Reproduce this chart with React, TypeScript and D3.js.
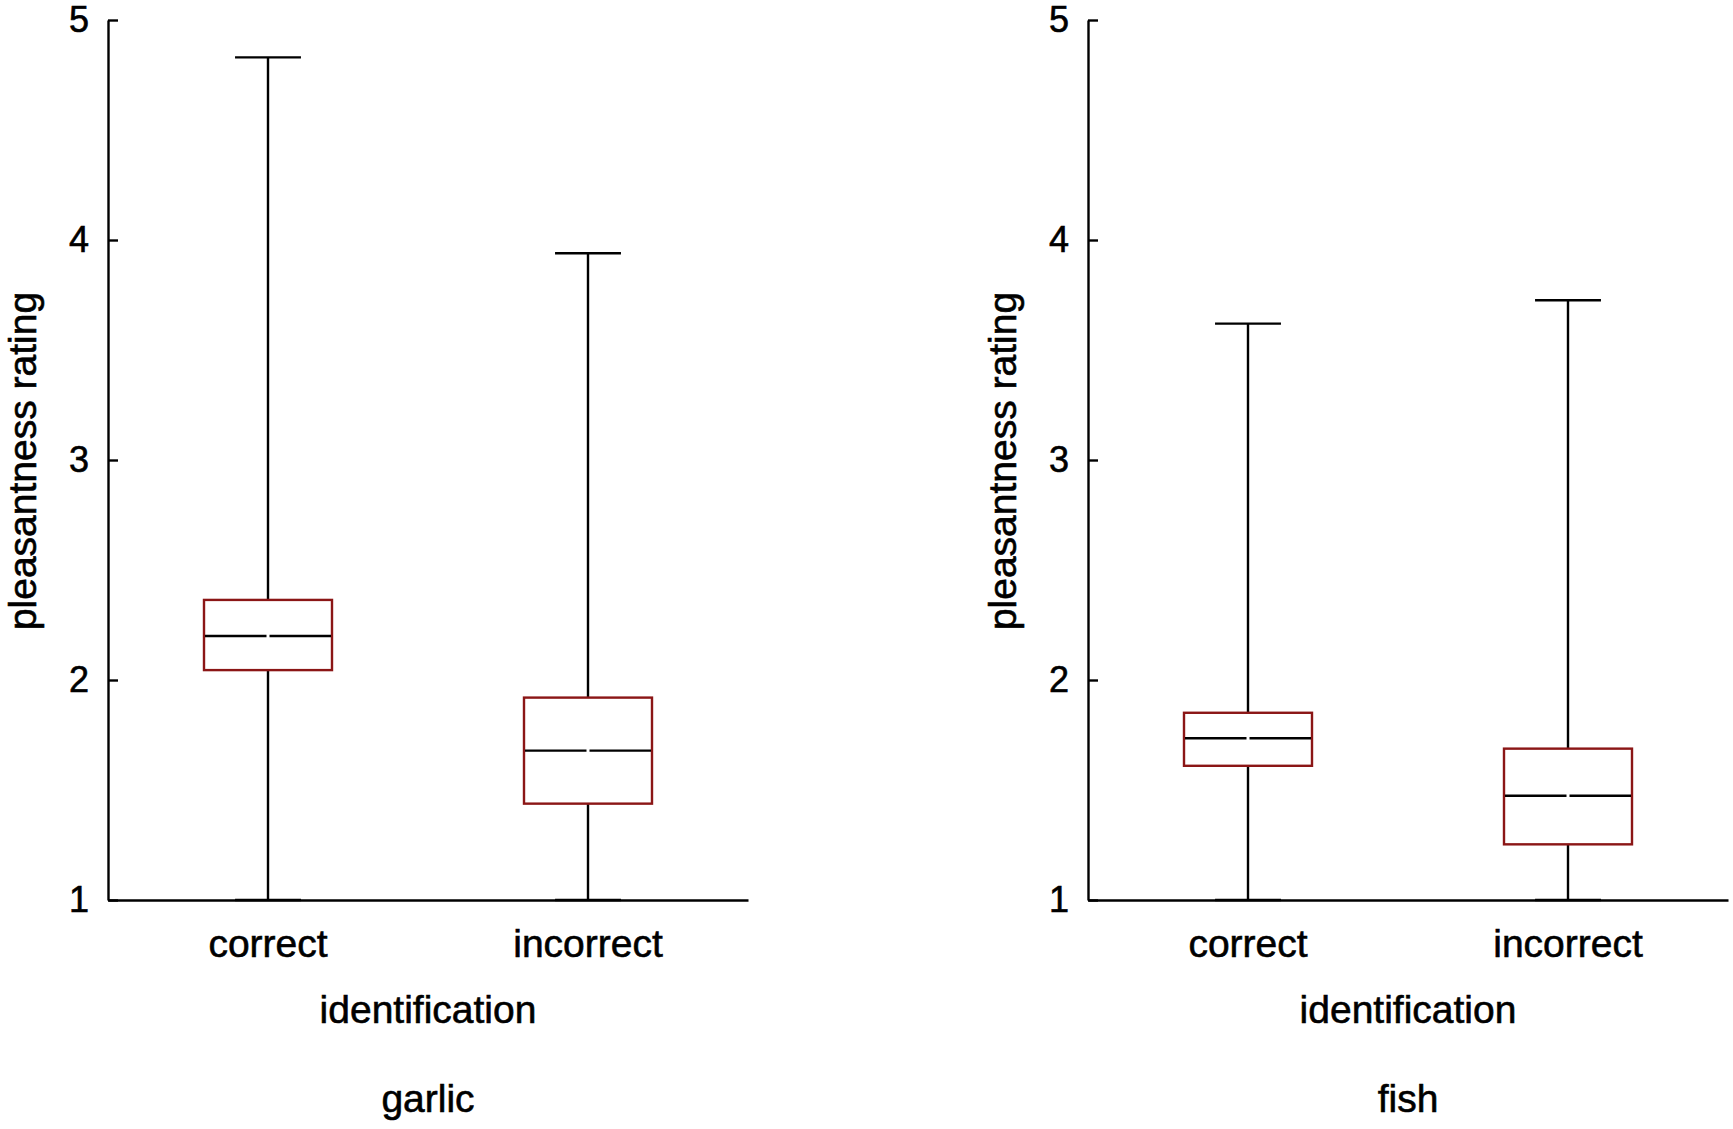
import React, { useEffect, useRef } from 'react';
import * as d3 from 'd3';

const panels = ['garlic', 'fish'];
const categories = ['correct', 'incorrect'];
const yTicks = [1, 2, 3, 4, 5];

const garlicLow = [1, 1];
const garlicQ1 = [2.045, 1.438];
const garlicMedian = [2.2, 1.679];
const garlicQ3 = [2.364, 1.92];
const garlicHigh = [4.83, 3.94];

const fishLow = [1, 1];
const fishQ1 = [1.61, 1.253];
const fishMedian = [1.735, 1.474];
const fishQ3 = [1.851, 1.688];
const fishHigh = [3.62, 3.726];

const W = 1733;
const H = 1129;
const BOX_COLOR = '#8b1616';
const FONT = '"Liberation Sans", Arial, sans-serif';
const LW = 2.4;

export default function App() {
  const svgRef = useRef<SVGSVGElement>(null);

  useEffect(() => {
    document.body.style.margin = '0';
    if (!svgRef.current) return;
    const svg = d3.select(svgRef.current);
    svg.selectAll('*').remove();

    const stats = [
      { low: garlicLow, q1: garlicQ1, med: garlicMedian, q3: garlicQ3, high: garlicHigh },
      { low: fishLow, q1: fishQ1, med: fishMedian, q3: fishQ3, high: fishHigh },
    ];
    const panelLeft = [108, 1088];
    const plotW = 640;
    const top = 20;
    const bottom = 900;

    const y = d3.scaleLinear().domain([1, 5]).range([bottom, top]);

    const label = (sel: d3.Selection<any, any, any, any>, size: number) =>
      sel.attr('font-family', FONT).attr('font-size', size)
        .attr('fill', '#000').attr('stroke', '#000').attr('stroke-width', 0.6);

    panels.forEach((name, p) => {
      const x0 = panelLeft[p];
      const x = d3.scaleBand<string>()
        .domain(categories)
        .range([x0, x0 + plotW])
        .paddingInner(0)
        .paddingOuter(0);
      const bw = x.bandwidth();
      const boxW = bw * 0.4;
      const capW = bw * 0.206;
      const s = stats[p];
      const g = svg.append('g');

      // boxes and whiskers
      categories.forEach((c, i) => {
        const cx = (x(c) ?? 0) + bw / 2;
        g.append('line')
          .attr('x1', cx).attr('x2', cx)
          .attr('y1', y(s.low[i])).attr('y2', y(s.q1[i]))
          .attr('stroke', '#000').attr('stroke-width', LW);
        g.append('line')
          .attr('x1', cx).attr('x2', cx)
          .attr('y1', y(s.q3[i])).attr('y2', y(s.high[i]))
          .attr('stroke', '#000').attr('stroke-width', LW);
        [s.low[i], s.high[i]].forEach((v) => {
          g.append('line')
            .attr('x1', cx - capW / 2).attr('x2', cx + capW / 2)
            .attr('y1', y(v)).attr('y2', y(v))
            .attr('stroke', '#000').attr('stroke-width', LW);
        });
        g.append('rect')
          .attr('x', cx - boxW / 2)
          .attr('y', y(s.q3[i]))
          .attr('width', boxW)
          .attr('height', y(s.q1[i]) - y(s.q3[i]))
          .attr('fill', '#fff')
          .attr('stroke', BOX_COLOR)
          .attr('stroke-width', LW);
        // median drawn in two halves, tiny gap in the middle
        g.append('line')
          .attr('x1', cx - boxW / 2 + 1).attr('x2', cx - 1.5)
          .attr('y1', y(s.med[i])).attr('y2', y(s.med[i]))
          .attr('stroke', '#000').attr('stroke-width', LW);
        g.append('line')
          .attr('x1', cx + 1.5).attr('x2', cx + boxW / 2 - 1)
          .attr('y1', y(s.med[i])).attr('y2', y(s.med[i]))
          .attr('stroke', '#000').attr('stroke-width', LW);
      });

      // y axis, ticks pointing inward
      const yAxis = g.append('g')
        .attr('transform', `translate(${x0},0)`)
        .call(d3.axisLeft(y).tickValues(yTicks).tickFormat(d3.format('d'))
          .tickSizeInner(-10).tickSizeOuter(0).tickPadding(19));
      yAxis.select('.domain').attr('stroke', '#000').attr('stroke-width', LW);
      yAxis.selectAll('.tick line').attr('stroke', '#000').attr('stroke-width', LW);
      label(yAxis.selectAll('.tick text'), 36);

      // x axis
      const xAxis = g.append('g')
        .attr('transform', `translate(0,${bottom})`)
        .call(d3.axisBottom(x).tickSize(0).tickPadding(0));
      xAxis.select('.domain').attr('stroke', '#000').attr('stroke-width', LW);
      label(xAxis.selectAll('.tick text').attr('y', 57).attr('dy', 0), 39);

      const mid = x0 + plotW / 2;
      label(g.append('text')
        .attr('x', mid).attr('y', 1023)
        .attr('text-anchor', 'middle'), 39)
        .text('identification');
      label(g.append('text')
        .attr('x', mid).attr('y', 1112)
        .attr('text-anchor', 'middle'), 39)
        .text(name);
      label(g.append('text')
        .attr('transform', `translate(${x0 - 72},${461}) rotate(-90)`)
        .attr('text-anchor', 'middle'), 39)
        .text('pleasantness rating');
    });
  }, []);

  return <svg ref={svgRef} width={W} height={H} style={{ display: 'block', background: '#fff' }} />;
}
